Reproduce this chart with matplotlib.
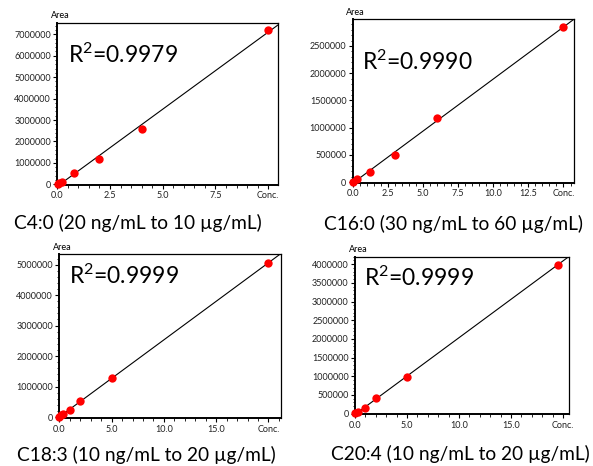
import numpy as np
import matplotlib.pyplot as plt
from matplotlib.ticker import AutoMinorLocator, FixedLocator

plt.rcParams['font.family'] = ['Lato', 'DejaVu Sans']
plt.rcParams['mathtext.default'] = 'regular'

# C4:0
x_c4 = [0.02, 0.1, 0.2, 0.8, 2.0, 4.0, 10.0]
y_c4 = [10000, 60000, 110000, 510000, 1200000, 2600000, 7200000]
# C16:0
x_c16 = [0.03, 0.3, 1.2, 3.0, 6.0, 15.0]
y_c16 = [5000, 50000, 190000, 500000, 1180000, 2840000]
# C18:3
x_c18 = [0.01, 0.2, 0.4, 1.0, 2.0, 5.0, 20.0]
y_c18 = [10000, 60000, 100000, 230000, 530000, 1270000, 5060000]
# C20:4
x_c20 = [0.01, 0.3, 1.0, 2.0, 5.0, 19.5]
y_c20 = [10000, 50000, 140000, 410000, 990000, 3990000]

r2 = ['0.9979', '0.9990', '0.9999', '0.9999']
captions = ['C4:0 (20 ng/mL to 10 µg/mL)', 'C16:0 (30 ng/mL to 60 µg/mL)',
            'C18:3 (10 ng/mL to 20 µg/mL)', 'C20:4 (10 ng/mL to 20 µg/mL)']

panels = [
    dict(x=x_c4, y=y_c4, rect=[0.0966, 0.603, 0.3727, 0.3483],
         xlim=(0, 10.48), ylim=(-30000, 7540000),
         xt=[0, 2.5, 5, 7.5, 10], yt=np.arange(0, 7000001, 1000000),
         r2pos=(0.047, 0.752), cap=(138, 229)),
    dict(x=x_c16, y=y_c16, rect=[0.5948, 0.608, 0.3732, 0.3506],
         xlim=(0, 15.75), ylim=(-10000, 2990000),
         xt=[0, 2.5, 5, 7.5, 10, 12.5, 15], yt=np.arange(0, 2500001, 500000),
         r2pos=(0.041, 0.69), cap=(453, 230)),
    dict(x=x_c18, y=y_c18, rect=[0.1, 0.1024, 0.3739, 0.352],
         xlim=(0, 21.2), ylim=(-40000, 5340000),
         xt=[0, 5, 10, 15, 20], yt=np.arange(0, 5000001, 1000000),
         r2pos=(0.045, 0.819), cap=(146, 461)),
    dict(x=x_c20, y=y_c20, rect=[0.5987, 0.111, 0.3614, 0.3382],
         xlim=(0, 20.6), ylim=(-16000, 4200000),
         xt=[0, 5, 10, 15, 20], yt=np.arange(0, 4000001, 500000),
         r2pos=(0.043, 0.814), cap=(460, 460)),
]

W, H = 593, 466
fig = plt.figure(figsize=(W / 100, H / 100), dpi=100)

for p, r, cap in zip(panels, r2, captions):
    ax = fig.add_axes(p['rect'])
    x = np.array(p['x'])
    y = np.array(p['y'])
    k, d = np.polyfit(x, y, 1)
    xl = np.array([p['xlim'][0] - 1, p['xlim'][1] + 1])
    ax.plot(xl, k * xl + d, 'k-', lw=0.8)
    ax.plot(x, y, 'o', color='#ff0000', ms=6, mec='none', clip_on=False, zorder=3)
    ax.set_xlim(p['xlim'])
    ax.set_ylim(p['ylim'])

    xt = p['xt']
    ax.xaxis.set_major_locator(FixedLocator(xt))
    ax.set_xticklabels(['%.1f' % v for v in xt[:-1]] + ['Conc.'])
    ax.yaxis.set_major_locator(FixedLocator(p['yt']))
    ax.set_yticklabels(['%d' % v for v in p['yt']])
    ax.xaxis.set_minor_locator(AutoMinorLocator(5))
    ax.yaxis.set_minor_locator(AutoMinorLocator(5))
    ax.tick_params(which='major', length=3, width=0.8, labelsize=6.5, pad=1.5,
                   labelcolor='#222222')
    ax.tick_params(which='minor', length=1.8, width=0.6)
    for s in ax.spines.values():
        s.set_linewidth(0.9)
    ax.spines['left'].set_linewidth(1.4)
    ax.spines['bottom'].set_linewidth(1.4)

    ax.text(-0.03, 1.015, 'Area', transform=ax.transAxes, fontsize=6.5, ha='left', va='bottom')
    ax.text(p['r2pos'][0], p['r2pos'][1], 'R$^2$=' + r, transform=ax.transAxes,
            fontsize=16.5, va='baseline', ha='left')
    fig.text(p['cap'][0] / W, 1 - p['cap'][1] / H, cap, fontsize=13.8,
             ha='center', va='baseline')

fig.savefig('out.png', dpi=100)
